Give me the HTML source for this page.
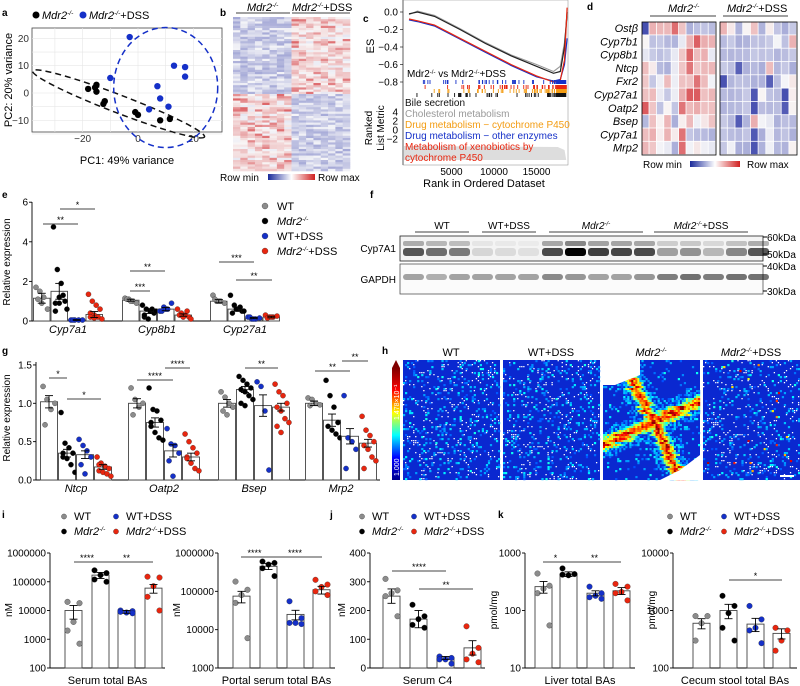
<!DOCTYPE html>
<html><head><meta charset="utf-8">
<style>
body{margin:0;background:#fff;}
svg{display:block;font-family:"Liberation Sans",Arial,sans-serif;}
</style></head>
<body>
<svg id="fig" width="800" height="686" viewBox="0 0 800 686" xmlns="http://www.w3.org/2000/svg">
<defs id="defs"></defs>
<g id="static" font-size="10">
<text x="2" y="16" font-weight="bold">a</text>
<text x="220" y="16" font-weight="bold">b</text>
<text x="363" y="22" font-weight="bold">c</text>
<text x="587" y="10" font-weight="bold">d</text>
<text x="2" y="198" font-weight="bold">e</text>
<text x="370" y="198" font-weight="bold">f</text>
<text x="2" y="354" font-weight="bold">g</text>
<text x="382" y="354" font-weight="bold">h</text>
<text x="2" y="518" font-weight="bold">i</text>
<text x="330" y="518" font-weight="bold">j</text>
<text x="498" y="518" font-weight="bold">k</text>
</g>
<g id="gA"></g>
<g id="gB"></g>
<g id="gC"></g>
<g id="gD"></g>
<g id="gE"></g>
<g id="gF"></g>
<g id="gG"></g>
<g id="gH"></g>
<g id="gI"></g>
</svg>
<script>
// ---------- data ----------
const pcaBlackX=[-18,-15,-15,-15.5,-12,-12.5,-1,0,8,11.5];
const pcaBlackY=[1.5,3,0.5,2,-3,-4,-7,-8,-10,-9.5];
const pcaBlueX=[-3,-10,13,17,17,7,8,11,4];
const pcaBlueY=[20.5,5.5,10,9.5,6,2.5,-2,-5,-6];
const pcaXTicks=[-20,0,20];
const pcaYTicks=[-10,0,10,20];

const gseaRanks=[0,1000,3000,6000,9000,12000,15000,17000,17800,18300,18600];
const gseaBlack=[-0.02,0,-0.05,-0.2,-0.36,-0.5,-0.62,-0.7,-0.68,-0.4,0];
const gseaGray=[-0.03,0.01,-0.04,-0.19,-0.35,-0.49,-0.6,-0.68,-0.62,-0.35,-0.05];
const gseaRed=[-0.08,-0.1,-0.15,-0.3,-0.45,-0.6,-0.73,-0.8,-0.78,-0.55,0.05];
const gseaBlue=[-0.09,-0.11,-0.16,-0.31,-0.46,-0.61,-0.74,-0.79,-0.77,-0.6,-0.3];
const gseaYTicks=[0,-0.2,-0.4,-0.6,-0.8];
const gseaXTicks=[5000,10000,15000];

const dGenes=["Ostβ","Cyp7b1","Cyp8b1","Ntcp","Fxr2","Cyp27a1","Oatp2","Bsep","Cyp7a1","Mrp2"];
const dRows=["BrrrRrbbbbrwbwrbwbbb","wbbbbwrRrrbbbbbbbwbr","wbbbwrRrrwbbbbbbbbbb","rwbbwrRrrrbbBbbbrbbb","rbwrwrrRrwBbbbbbBbww","rrwbwrRRrrbbbbBwbbBw","RrbwbRrrrrbbbbBbbbBw","brwrbwrwwrbbBbrwwbbb","rrwrwRbbbbbbbbBbwbbb","rrwwbRwwwwbwbbBbwbbw"];

const groupNames=["WT","Mdr2","WT+DSS","Mdr2+DSS"];
const eGenes=["Cyp7a1","Cyp8b1","Cyp27a1"];
const eMeans=[[1.15,1.5,0.05,0.33],[1.05,0.5,0.6,0.3],[1.0,0.6,0.15,0.2]];
const eSem=[[0.25,0.4,0.02,0.15],[0.05,0.12,0.08,0.06],[0.08,0.1,0.03,0.04]];
const ePts=[
 [[1.7,1.5,1.2,0.6,1.1,0.9],[4.75,2.6,1.9,1.0,0.9,0.9,1.3,0.6,0.5,1.2],[0.05,0.05,0.05,0.05,0.05],[1.35,1.0,0.8,0.6,0.4,0.3,0.2,0.1,0.2,0.15]],
 [[1.15,1.1,1.0,0.9,1.1,1.0],[0.8,0.6,0.5,0.4,0.2,0.1,0.6,0.5,0.3],[0.5,0.7,0.6,0.9,0.5,0.6],[0.6,0.4,0.3,0.2,0.3,0.2,0.5,0.1]],
 [[1.3,1.0,1.0,0.9,1.1,1.0],[1.3,0.8,0.6,0.5,0.4,0.6,0.7,0.5],[0.2,0.1,0.1,0.15,0.2,0.1],[0.3,0.2,0.2,0.25,0.15,0.2]]];
const eYTicks=[0,2,4,6];

const gGenes=["Ntcp","Oatp2","Bsep","Mrp2"];
const gMeans=[[1.02,0.35,0.33,0.17],[1.0,0.75,0.38,0.3],[1.0,1.18,0.97,0.95],[1.0,0.78,0.57,0.48]];
const gSem=[[0.08,0.05,0.05,0.03],[0.06,0.06,0.08,0.05],[0.05,0.04,0.14,0.05],[0.03,0.08,0.1,0.05]];
const gPts=[
 [[1.22,1.05,0.92,1.0,0.72],[0.88,0.48,0.42,0.35,0.3,0.28,0.2,0.1,0.35],[0.53,0.45,0.38,0.3,0.2,0.08],[0.3,0.22,0.18,0.15,0.12,0.1,0.08,0.05,0.2]],
 [[1.2,1.05,0.95,1.0,0.85],[1.2,0.92,0.9,0.78,0.7,0.62,0.55,0.52,0.75],[0.67,0.47,0.45,0.35,0.25,0.05],[0.6,0.5,0.42,0.35,0.3,0.22,0.15,0.12,0.28]],
 [[1.15,1.08,1.0,0.95,0.9,0.85],[1.35,1.3,1.25,1.2,1.18,1.15,1.1,1.05,1.0,0.97],[1.28,1.22,0.9,0.13],[1.25,1.15,1.1,1.0,0.95,0.9,0.8,0.75,0.7,0.62]],
 [[1.07,1.05,1.0,0.98,0.97],[1.3,1.1,0.95,0.75,0.7,0.65,0.6,0.55],[1.1,0.55,0.5,0.4,0.15],[0.83,0.65,0.58,0.5,0.45,0.4,0.3,0.25,0.15]]];
const gYTicks=[0,0.5,1,1.5];

const iMeans=[10000,170000,9000,60000];
const iSem=[5000,40000,1000,20000];
const iPts=[[20000,18000,4000,2000,700],[250000,200000,170000,120000,100000],[10000,9500,8500,9000,8000],[150000,140000,70000,30000,10000]];
const i2Means=[75000,450000,25000,110000];
const i2Sem=[25000,80000,7000,25000];
const i2Pts=[[180000,110000,80000,50000,6000],[600000,550000,500000,400000,250000],[55000,20000,15000,15000,14000],[200000,150000,130000,100000,80000]];
const jMeans=[250,170,35,70];
const jSem=[25,30,5,25];
const jPts=[[310,270,260,250,180],[220,180,170,150,140],[40,35,30,30,15],[145,70,50,30,20]];
const kMeans=[260,430,200,220];
const kSem=[60,40,20,30];
const kPts=[[440,270,240,200,55],[540,430,410,420],[260,200,180,170,160],[290,260,210,200,150]];
const lMeans=[600,1000,580,400];
const lSem=[120,280,150,80];
const lPts=[[800,800,600,300],[1800,1200,900,500,300],[1200,700,500,450,270],[500,450,300,200]];

const colors=["#8c8c8c","#000000","#1530c8","#e8260f"];
const NS="http://www.w3.org/2000/svg";
function el(parent,tag,attrs,text){const e=document.createElementNS(NS,tag);for(const k in attrs)e.setAttribute(k,attrs[k]);if(text!==undefined)e.textContent=text;parent.appendChild(e);return e;}
function italicMdr(parent,x,y,size,suffix,anchor){
  const t=el(parent,'text',{x:x,y:y,'font-size':size,'text-anchor':anchor||'start'});
  el(t,'tspan',{'font-style':'italic'},'Mdr2');
  el(t,'tspan',{'font-style':'italic','font-size':size*0.6,dy:-size*0.35},'-/-');
  el(t,'tspan',{dy:size*0.35},suffix||'');
  return t;
}
const defs=document.getElementById('defs');

// ---------- panel a ----------
(function(){
 const g=document.getElementById('gA');
 const X=v=>138+v*2.77, Y=v=>93-v*2.73;
 el(g,'rect',{x:32,y:28,width:190,height:104,fill:'#fff',stroke:'#444','stroke-width':0.8});
 for(let v=-30;v<=20;v+=10){el(g,'line',{x1:X(v),x2:X(v),y1:28,y2:132,stroke:'#e6e6e6','stroke-width':0.6});}
 for(let v=-15;v<=20;v+=5){el(g,'line',{x1:32,x2:222,y1:Y(v),y2:Y(v),stroke:'#e6e6e6','stroke-width':0.6});}
 pcaXTicks.forEach(v=>{el(g,'text',{x:X(v),y:142,'font-size':10,'text-anchor':'middle',fill:'#333'},String(v).replace('-','−'));});
 pcaYTicks.forEach(v=>{el(g,'text',{x:29,y:Y(v)+3.5,'font-size':10,'text-anchor':'end',fill:'#333'},String(v).replace('-','−'));});
 el(g,'text',{x:127,y:164,'font-size':11,'text-anchor':'middle'},'PC1: 49% variance');
 el(g,'text',{x:12,y:80,'font-size':11,'text-anchor':'middle',transform:'rotate(-90 12 80)'},'PC2: 20% variance');
 const be=el(g,'ellipse',{cx:X(-7),cy:Y(-4),rx:92,ry:9,fill:'none',stroke:'#111','stroke-width':1.5,'stroke-dasharray':'6 4',transform:`rotate(21 ${X(-7)} ${Y(-4)})`});
 
 const bl=el(g,'ellipse',{cx:X(10),cy:Y(2),rx:52,ry:60,fill:'none',stroke:'#1530c8','stroke-width':1.5,'stroke-dasharray':'6 4'});
 
 pcaBlackX.forEach((v,i)=>{const c=el(g,'circle',{cx:X(v),cy:Y(pcaBlackY[i]),r:3.2,fill:'#000'});
  });
 pcaBlueX.forEach((v,i)=>{const c=el(g,'circle',{cx:X(v),cy:Y(pcaBlueY[i]),r:3.2,fill:'#1530c8'});
  });
 el(g,'circle',{cx:36,cy:15,r:3.5,fill:'#000'});
 italicMdr(g,42,19,11,'');
 el(g,'circle',{cx:83,cy:15,r:3.5,fill:'#1530c8'});
 italicMdr(g,89,19,11,'+DSS');
})();

function bwr(v){
 v=Math.max(-1,Math.min(1,v));
 if(v<0){const t=-v;return `rgb(${Math.round(245-t*(245-45))},${Math.round(245-t*(245-55))},${Math.round(248-t*(248-165))})`;}
 return `rgb(${Math.round(248-v*(248-210))},${Math.round(245-v*(245-45))},${Math.round(245-v*(245-50))})`;
}
// integer texture hash (for image-like textures only)
function h(i,j){let x=(Math.imul(i|0,374761393)+Math.imul(j|0,668265263))|0;x=Math.imul(x^(x>>>13),1274126177);x^=x>>>16;return (x>>>0)/4294967296;}

// ---------- panel b ----------
(function(){
 const g=document.getElementById('gB');
 const x0=233,y0=17,w=117,hh=154,cols=16,rows=70;
 const cw=w/cols,rh=hh/rows;
 for(let r=0;r<rows;r++)for(let c=0;c<cols;c++){
  const top=r<rows*0.5, left=c<8;
  let base=(top===left)?-0.2:0.12;
  let v=base+(h(r,c)-0.5)*0.4;
  if(!(top===left)&&h(c+99,r*3)>0.85)v+=0.4;
  el(g,'rect',{x:x0+c*cw,y:y0+r*rh,width:cw+0.3,height:rh+0.3,fill:bwr(v)});
 }
 el(g,'line',{x1:236,x2:290,y1:13,y2:13,stroke:'#000','stroke-width':0.8});
 el(g,'line',{x1:292,x2:350,y1:13,y2:13,stroke:'#000','stroke-width':0.8});
 italicMdr(g,247,11,11,'');
 italicMdr(g,292,11,11,'+DSS');
 const grad=el(defs,'linearGradient',{id:'bwrg',x1:0,x2:1,y1:0,y2:0});
 el(grad,'stop',{offset:'0','stop-color':'#1a2a9a'});el(grad,'stop',{offset:'0.5','stop-color':'#fff'});el(grad,'stop',{offset:'1','stop-color':'#d02020'});
 el(g,'rect',{x:268,y:174,width:47,height:6,fill:'url(#bwrg)'});
 el(g,'text',{x:220,y:181,'font-size':10},'Row min');
 el(g,'text',{x:318,y:181,'font-size':10},'Row max');
})();

// ---------- panel c ----------
(function(){
 const g=document.getElementById('gC');
 const X=r=>409+r*0.0085, Y=v=>12-v*87.5;
 el(g,'line',{x1:403,x2:403,y1:0,y2:165,stroke:'#000','stroke-width':0.8});
 el(g,'rect',{x:403,y:0,width:165,height:165,fill:'none',stroke:'#888','stroke-width':0.5});
 gseaYTicks.forEach(v=>{el(g,'text',{x:398,y:Y(v)+3.5,'font-size':10,'text-anchor':'end'},(v===0?'0.0':v.toFixed(1).replace('-','−')));el(g,'line',{x1:400,x2:403,y1:Y(v),y2:Y(v),stroke:'#000','stroke-width':0.6});});
 el(g,'text',{x:374,y:46,'font-size':11,'text-anchor':'middle',transform:'rotate(-90 374 46)'},'ES');
 el(g,'text',{x:372,y:128,'font-size':10,'text-anchor':'middle',transform:'rotate(-90 372 128)'},'Ranked');
 el(g,'text',{x:384,y:128,'font-size':10,'text-anchor':'middle',transform:'rotate(-90 384 128)'},'List Metric');
 [[4,112],[2,121],[0,130],[-2,139]].forEach(a=>{el(g,'text',{x:398,y:a[1]+3.5,'font-size':10,'text-anchor':'end'},String(a[0]).replace('-','−'));});
 const series=[[gseaGray,'#999'],[gseaBlack,'#222'],[gseaBlue,'#1530c8'],[gseaRed,'#e8260f']];
 series.forEach(s=>{const d=gseaRanks.map((r,i)=>(i?'L':'M')+X(r).toFixed(1)+' '+Y(s[0][i]).toFixed(1)).join(' ');
  const p=el(g,'path',{d:d,fill:'none',stroke:s[1],'stroke-width':1.2});
  });
 const rowsH=[[80,'#1530c8'],[85,'#e8260f'],[89,'#f39c12'],[93,'#111']];
 rowsH.forEach((rw,k)=>{for(let i=0;i<60;i++){const r=Math.pow(h(i,k+1),0.6)*18500; if(h(i,k+7)<0.35&&r<15000)continue;
   el(g,'rect',{x:X(r),y:rw[0],width:0.9,height:4,fill:rw[1]});}
  el(g,'rect',{x:X(17300),y:rw[0],width:X(18500)-X(17300),height:4,fill:rw[1]});});
 el(g,'path',{d:`M404 146 L${X(17500)} 147 L${X(18300)} 150 L${X(18500)} 160 L404 160 Z`,fill:'#ddd'});
 const t=el(g,'text',{x:407,y:77,'font-size':10});
 t.appendChild(document.createTextNode('Mdr2'));
 el(t,'tspan',{'font-size':6,dy:-3},'-/-');
 el(t,'tspan',{dy:3},' vs Mdr2');
 el(t,'tspan',{'font-size':6,dy:-3},'-/-');
 el(t,'tspan',{dy:3},'+DSS');
 el(g,'text',{x:405,y:106,'font-size':10,fill:'#111'},'Bile secretion');
 el(g,'text',{x:405,y:117,'font-size':10,fill:'#999'},'Cholesterol metabolism');
 el(g,'text',{x:405,y:128,'font-size':10,fill:'#f39c12'},'Drug metabolism − cytochrome P450');
 el(g,'text',{x:405,y:139,'font-size':10,fill:'#1530c8'},'Drug metabolism − other enzymes');
 el(g,'text',{x:405,y:150,'font-size':10,fill:'#e8260f'},'Metabolism of xenobiotics by');
 el(g,'text',{x:405,y:161,'font-size':10,fill:'#e8260f'},'cytochrome P450');
 gseaXTicks.forEach(v=>{el(g,'text',{x:X(v),y:175,'font-size':10,'text-anchor':'middle'},String(v));});
 el(g,'text',{x:484,y:187,'font-size':11,'text-anchor':'middle'},'Rank in Ordered Dataset');
})();

// ---------- panel d ----------
(function(){
 const g=document.getElementById('gD');
 const codes={B:-0.8,b:-0.3,w:0,r:0.3,R:0.7};
 const blocks=[[642,74],[720,77]];
 const rh=13.3,y0=22;
 dRows.forEach((row,ri)=>{
  for(let c=0;c<20;c++){const b=c<10?blocks[0]:blocks[1];const cw=b[1]/10;const cc=c%10;
   const v=codes[row[c]]+(h(ri,c)-0.5)*0.15;
   el(g,'rect',{x:b[0]+cc*cw,y:y0+ri*rh,width:cw-0.8,height:rh-0.8,fill:bwr(v)});}
  el(g,'text',{x:638,y:y0+ri*rh+10,'font-size':11,'font-style':'italic','text-anchor':'end'},dGenes[ri]);
 });
 blocks.forEach(b=>el(g,'rect',{x:b[0],y:y0,width:b[1],height:rh*10,fill:'none',stroke:'#000','stroke-width':0.8}));
 el(g,'line',{x1:650,x2:716,y1:16,y2:16,stroke:'#000','stroke-width':0.8});
 el(g,'line',{x1:723,x2:788,y1:16,y2:16,stroke:'#000','stroke-width':0.8});
 italicMdr(g,668,12,11,'');
 italicMdr(g,727,12,11,'+DSS');
 el(g,'rect',{x:690,y:161,width:50,height:6,fill:'url(#bwrg)'});
 el(g,'text',{x:643,y:168,'font-size':10},'Row min');
 el(g,'text',{x:747,y:168,'font-size':10},'Row max');
})();

function barChart(g,opt){
 el(g,'line',{x1:opt.axisX,x2:opt.axisX,y1:opt.yTop,y2:opt.yBot,stroke:'#000','stroke-width':0.9});
 el(g,'line',{x1:opt.axisX,x2:opt.xEnd,y1:opt.yBot,y2:opt.yBot,stroke:'#000','stroke-width':0.9});
 opt.ticks.forEach((t,i)=>{const y=opt.scale(t);el(g,'line',{x1:opt.axisX-3,x2:opt.axisX,y1:y,y2:y,stroke:'#000','stroke-width':0.9});
  el(g,'text',{x:opt.axisX-4,y:y+3.5,'font-size':10,'text-anchor':'end'},opt.tickLabels?opt.tickLabels[i]:String(t));});
 opt.groups.forEach((gr)=>{
  gr.means.forEach((m,k)=>{
   const x=gr.start+k*opt.barW, yb=opt.scale(m);
   const r=el(g,'rect',{x:x+0.5,y:yb,width:opt.barW-1,height:opt.yBot-yb,fill:'#fff',stroke:'#444','stroke-width':0.9});
   
   
   const cx=x+opt.barW/2;
   const pts=gr.pts[k];
   pts.forEach((v,pi)=>{const n=pts.length;const off=(n>1)?((pi%4)-1.5)*opt.barW*0.22+((pi>=4)?opt.barW*0.11:0):0;
    const c=el(g,'circle',{cx:cx+off,cy:opt.scale(v),r:2.6,fill:colors[k],stroke:'#222','stroke-width':0.3});
    
    });
   const s=gr.sem[k];const yh=opt.scale(m+s), yl=opt.scale(Math.max(m-s,opt.minV));
   el(g,'line',{x1:cx,x2:cx,y1:yh,y2:yl,stroke:'#000','stroke-width':0.9});
   el(g,'line',{x1:cx-4,x2:cx+4,y1:yh,y2:yh,stroke:'#000','stroke-width':0.9});
   el(g,'line',{x1:cx-4,x2:cx+4,y1:yl,y2:yl,stroke:'#000','stroke-width':0.9});
  });
  if(gr.label){el(g,'text',{x:gr.start+opt.barW*2,y:opt.yBot+12,'font-size':11,'text-anchor':'middle','font-style':'italic'},gr.label);}
 });
 (opt.sig||[]).forEach(s=>{el(g,'line',{x1:s[0],x2:s[1],y1:s[2],y2:s[2],stroke:'#444','stroke-width':0.9});
  el(g,'text',{x:(s[0]+s[1])/2,y:s[2]-1,'font-size':9,'text-anchor':'middle'},s[3]);});
}
function legend4(g,x,y,dx,dy){
 [0,1,2,3].forEach(a=>{
  const col=a<2?0:1;const row=a%2;
  const xx=x+col*dx, yy=y+row*dy;
  const c=el(g,'circle',{cx:xx,cy:yy-3.5,r:2.6,fill:colors[a],stroke:'#222','stroke-width':0.3});
  
  if(a===0)el(g,'text',{x:xx+10,y:yy,'font-size':11},'WT');
  else if(a===2)el(g,'text',{x:xx+10,y:yy,'font-size':11},'WT+DSS');
  else italicMdr(g,xx+10,yy,11,a===3?'+DSS':'');
 });
}

// ---------- panel e ----------
(function(){
 const g=document.getElementById('gE');
 const sc=v=>321-v*19.8;
 barChart(g,{axisX:32,yTop:202,yBot:321,xEnd:270,scale:sc,minV:0,ticks:eYTicks,barW:17.5,
  groups:eGenes.map((n,i)=>({start:[33,122,210][i],means:eMeans[i],sem:eSem[i],pts:ePts[i],label:n})),
  sig:[[43,78,224,'**'],[60,95,209,'*'],[130,165,271,'**'],[130,150,291,'***'],[219,254,262,'***'],[236,272,280,'**']]});
 el(g,'text',{x:10,y:262,'font-size':10,'text-anchor':'middle',transform:'rotate(-90 10 262)'},'Relative expression');
 [0,1,2,3].forEach((a,i)=>{const y=210+i*15;
  el(g,'circle',{cx:265,cy:y-4,r:3,fill:colors[a],stroke:'#222','stroke-width':0.3});
  if(a===1||a===3)italicMdr(g,277,y,11,a===3?'+DSS':'');else el(g,'text',{x:277,y:y,'font-size':11},a===0?'WT':'WT+DSS');});
})();

// ---------- panel f ----------
(function(){
 const g=document.getElementById('gF');
 const laneX=[403,426,449,472,495,518,542,565,588,611,634,657,680,703,726,748];
 const cypI=[0.65,0.55,0.5,0.12,0.1,0.08,0.7,1.0,0.75,0.72,0.7,0.35,0.4,0.25,0.45,0.65];
 const gapI=[0.35,0.3,0.35,0.35,0.35,0.35,0.45,0.4,0.35,0.35,0.4,0.5,0.55,0.5,0.55,0.55];
 el(g,'rect',{x:400,y:236,width:363,height:25,fill:'#f4f4f4',stroke:'#222','stroke-width':0.8});
 el(g,'rect',{x:400,y:264,width:363,height:30,fill:'#fbfbfb',stroke:'#555','stroke-width':0.8});
 laneX.forEach((x,i)=>{
  const b=el(g,'rect',{x:x,y:248,width:21,height:8,rx:3,fill:'#000','fill-opacity':cypI[i]});
  
  el(g,'rect',{x:x,y:241,width:21,height:5,rx:2,fill:'#000','fill-opacity':cypI[i]*0.45});
  const b2=el(g,'rect',{x:x,y:274,width:21,height:6,rx:3,fill:'#000','fill-opacity':gapI[i]});
  
 });
 el(g,'text',{x:396,y:252,'font-size':10,'text-anchor':'end'},'Cyp7A1');
 el(g,'text',{x:396,y:283,'font-size':10,'text-anchor':'end'},'GAPDH');
 [[237,'60kDa'],[254,'50kDa'],[266,'40kDa'],[291,'30kDa']].forEach(a=>{el(g,'line',{x1:763,x2:767,y1:a[0],y2:a[0],stroke:'#000'});el(g,'text',{x:767,y:a[0]+4,'font-size':10},a[1]);});
 [[415,469,'WT'],[482,536,'WT+DSS'],[549,643,null],[654,748,'+DSS']].forEach((a,i)=>{
  el(g,'line',{x1:a[0],x2:a[1],y1:232,y2:232,stroke:'#000','stroke-width':0.8});
  if(i<2)el(g,'text',{x:(a[0]+a[1])/2,y:229,'font-size':10,'text-anchor':'middle'},a[2]);
  else italicMdr(g,(a[0]+a[1])/2,229,10,i===3?'+DSS':'','middle');
 });
})();

// ---------- panel g ----------
(function(){
 const g=document.getElementById('gG');
 const sc=v=>480-v*76.7;
 barChart(g,{axisX:36,yTop:362,yBot:480,xEnd:380,scale:sc,minV:0,ticks:gYTicks,tickLabels:['0.0','0.5','1.0','1.5'],barW:18,
  groups:gGenes.map((n,i)=>({start:[40,128,218,305][i],means:gMeans[i],sem:gSem[i],pts:gPts[i],label:n})),
  sig:[[49,67,378,'*'],[67,101,399,'*'],[137,173,380,'****'],[165,190,368,'****'],[245,278,368,'**'],[315,350,371,'**'],[342,368,361,'**']]});
 el(g,'text',{x:10,y:418,'font-size':10,'text-anchor':'middle',transform:'rotate(-90 10 418)'},'Relative expression');
})();

// ---------- panel h ----------
(function(){
 const g=document.getElementById('gH');
 const px=[403,503,603,703];
 const jet=v=>{v=Math.max(0,Math.min(1,v));const r=Math.max(0,Math.min(1,1.5-Math.abs(4*v-3))),gg=Math.max(0,Math.min(1,1.5-Math.abs(4*v-2))),b=Math.max(0,Math.min(1,1.5-Math.abs(4*v-1)));return `rgb(${r*255|0},${gg*255|0},${b*255|0})`;};
 px.forEach((x0,p)=>{
  el(g,'rect',{x:x0,y:360,width:97,height:120,fill:'#0a28d0'});
  const n=48,m=60;const cw=97/n,ch=120/m;
  for(let i=0;i<n;i++)for(let j=0;j<m;j++){
   let v=-1;
   const r=h(i+p*50,j+p*7);
   if(r>0.88)v=0.2+h(j+3,i+p)*0.12;
   if(r>0.975)v=0.3+h(i+5,j)*0.1;
   if(p===3&&r>0.99)v=0.6+h(i,j+11)*0.35;
   if(p===2){
     const wob=(h(j,77)-0.5)*3;
     const d1=Math.abs((i-24+wob)-(j-30)*0.5),d2=Math.abs((j-36)+(i-12)*0.45+wob);const d=Math.min(d1,d2);
     if(d<4){v=0.25+(4-d)/4*0.5+h(j+9,i)*0.3;}
     else if(d<8&&h(i,j+33)>0.5)v=0.2+h(i,j)*0.15;}
   if(v>0)el(g,'rect',{x:x0+i*cw,y:360+j*ch,width:cw+0.2,height:ch+0.2,fill:jet(v)});
   else if(p!==2&&h(j+p*3+200,i*2+1)>0.9)el(g,'rect',{x:x0+i*cw,y:360+j*ch,width:1.3,height:1.3,fill:'#fff'});
  }
 });
 el(g,'text',{x:451,y:356,'font-size':11,'text-anchor':'middle'},'WT');
 el(g,'text',{x:551,y:356,'font-size':11,'text-anchor':'middle'},'WT+DSS');
 italicMdr(g,651,356,11,'','middle');
 italicMdr(g,751,356,11,'+DSS','middle');
 el(g,'path',{d:'M603 360 L640 360 L640 375 L615 385 L603 385 Z',fill:'#fff'});
 el(g,'path',{d:'M660 480 L700 480 L700 455 L680 470 Z',fill:'#fff'});
 const gd=el(defs,'linearGradient',{id:'jetg',x1:0,x2:0,y1:1,y2:0});
 ['#00008f','#0000ff','#00ffff','#ffff00','#ff0000','#800000'].forEach((c,i)=>el(gd,'stop',{offset:i/5,'stop-color':c}));
 el(g,'rect',{x:392,y:368,width:8,height:112,fill:'url(#jetg)'});
 el(g,'path',{d:'M392 368 L396 360 L400 368 Z',fill:'#800000'});
 el(g,'text',{x:399,y:476,'font-size':7,fill:'#fff',transform:'rotate(-90 399 476)'},'1.000');
 el(g,'text',{x:399,y:420,'font-size':7,fill:'#fff',transform:'rotate(-90 399 420)'},'1.478×10⁻¹');
 el(g,'rect',{x:780,y:475,width:14,height:2,fill:'#fff'});
})();

// ---------- panels i j k l ----------
(function(){
 const g=document.getElementById('gI');
 const logS=(lo,hi,top,bot)=>v=>bot-(Math.log10(v)-Math.log10(lo))/(Math.log10(hi)-Math.log10(lo))*(bot-top);
 function chart(axisX,starts,scale,ticks,means,sem,pts,minV,label,ylab,ylx,sig,xEnd){
  const sub=el(g,'g',{});
  const o={axisX:axisX,yTop:553,yBot:668,xEnd:xEnd,scale:scale,minV:minV,ticks:ticks,barW:17,sig:sig,groups:[]};
  barChart(sub,o);
  means.forEach((m,k)=>{
   const x=starts[k],yb=o.scale(m);
   const r=el(sub,'rect',{x:x,y:yb,width:o.barW,height:o.yBot-yb,fill:'#fff',stroke:'#444','stroke-width':0.9});
   
   
   const cx=x+o.barW/2;
   pts[k].forEach((v,pi)=>{const off=[-6,6,0,-6,6][pi%5];
    const c=el(sub,'circle',{cx:cx+off,cy:o.scale(v),r:2.8,fill:colors[k],stroke:'#222','stroke-width':0.3});
    
    });
   const yh=o.scale(m+sem[k]),yl=o.scale(Math.max(m-sem[k],o.minV));
   el(sub,'line',{x1:cx,x2:cx,y1:yh,y2:yl,stroke:'#000','stroke-width':0.9});
   el(sub,'line',{x1:cx-4,x2:cx+4,y1:yh,y2:yh,stroke:'#000','stroke-width':0.9});
   el(sub,'line',{x1:cx-4,x2:cx+4,y1:yl,y2:yl,stroke:'#000','stroke-width':0.9});
  });
  el(sub,'text',{x:(axisX+xEnd)/2,y:684,'font-size':11,'text-anchor':'middle'},label);
  el(sub,'text',{x:ylx,y:610,'font-size':10,'text-anchor':'middle',transform:`rotate(-90 ${ylx} 610)`},ylab);
 }
 chart(50,[65,92,118,145],logS(100,1e6,553,668),[100,1000,10000,100000,1000000],iMeans,iSem,iPts,100,'Serum total BAs','nM',12,[[74,100,562,'****'],[100,153,562,'**']],165);
 chart(218,[233,260,287,313],logS(1000,1e6,553,668),[1000,10000,100000,1000000],i2Means,i2Sem,i2Pts,1000,'Portal serum total BAs','nM',180,[[241,268,557,'****'],[268,322,557,'****']],335);
 chart(370,[383,410,437,464],v=>668-v*0.2875,[0,100,200,300,400],jMeans,jSem,jPts,0,'Serum C4','nM',345,[[392,446,571,'****'],[419,473,589,'**']],485);
 chart(525,[535,560,587,613],logS(10,1000,553,668),[10,100,1000],kMeans,kSem,kPts,10,'Liver total BAs','pmol/mg',497,[[543,568,562,'*'],[568,621,562,'**']],635);
 chart(673,[693,720,747,773],logS(100,10000,553,668),[100,1000,10000],lMeans,lSem,lPts,100,'Cecum stool total BAs','pmol/mg',655,[[729,782,580,'*']],797);
 legend4(g,64,520,52,15);
 legend4(g,362,520,52,15);
 legend4(g,670,520,54,15);
})();
</script>
</body></html>
